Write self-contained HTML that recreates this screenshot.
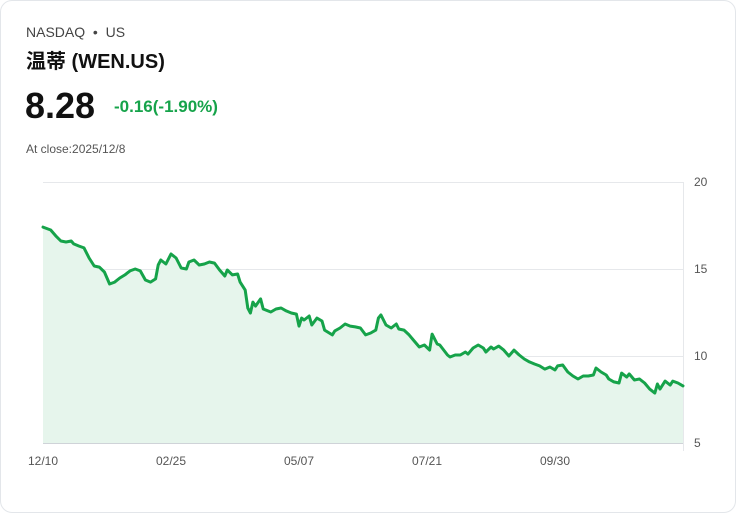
<!DOCTYPE html>
<html><head><meta charset="utf-8"><style>
body{margin:0;background:#fff;font-family:"Liberation Sans","Noto Sans CJK SC",sans-serif;}
.card{position:absolute;left:0;top:0;width:734px;height:511px;border:1px solid #e3e6ea;border-radius:12px;background:#fff;}
.t{position:absolute;white-space:nowrap;}
</style></head><body>
<div class="card">
<div class="t" style="left:25px;top:23px;font-size:14px;color:#444;">NASDAQ &nbsp;•&nbsp; US</div>
<div class="t" style="left:25px;top:44px;font-size:20px;font-weight:bold;color:#111;">温蒂 (WEN.US)</div>
<div class="t" style="left:24px;top:84px;font-size:36px;font-weight:bold;color:#111;">8.28</div>
<div class="t" style="left:113px;top:96px;font-size:17px;font-weight:bold;color:#16a34a;">-0.16(-1.90%)</div>
<div class="t" style="left:25px;top:141px;font-size:12px;color:#555;">At close:2025/12/8</div>
<svg id="chart" width="736" height="513" style="position:absolute;left:-1px;top:-1px;"></svg>
</div>
<script>
const days=[0,3,5,7,9,11,12,14,16,18,20,22,24,26,28,30,32,34,36,38,40,42,44,45,46,48,50,52,54,56,57,59,61,63,65,67,69,71,72,74,76,77,79,80,81,82,83,85,86,89,91,93,95,97,99,100,101,102,104,105,107,109,110,113,114,116,118,120,122,124,126,128,130,131,132,134,136,138,139,141,143,145,147,149,151,152,154,155,158,159,161,163,165,166,168,170,172,173,175,176,178,180,182,184,186,188,190,192,194,196,198,200,201,203,205,207,209,211,213,215,216,218,220,221,223,225,226,228,229,231,233,235,237,239,240,241,243,245,246,248,250];
const prices=[17.41,17.24,16.90,16.61,16.55,16.61,16.44,16.32,16.21,15.63,15.17,15.11,14.83,14.14,14.25,14.48,14.66,14.89,15.00,14.89,14.37,14.25,14.43,15.23,15.52,15.29,15.86,15.63,15.06,15.00,15.40,15.52,15.23,15.29,15.40,15.34,14.94,14.60,14.94,14.66,14.71,14.25,13.79,12.76,12.47,13.10,12.87,13.28,12.70,12.53,12.70,12.76,12.59,12.47,12.41,11.72,12.18,12.07,12.30,11.78,12.18,12.01,11.49,11.21,11.44,11.61,11.84,11.72,11.67,11.61,11.21,11.32,11.49,12.18,12.36,11.78,11.61,11.84,11.55,11.49,11.21,10.86,10.52,10.63,10.34,11.26,10.69,10.63,10.06,9.94,10.06,10.06,10.23,10.11,10.46,10.63,10.46,10.23,10.52,10.40,10.57,10.34,10.00,10.34,10.06,9.83,9.66,9.54,9.43,9.25,9.37,9.20,9.43,9.48,9.08,8.85,8.68,8.85,8.85,8.91,9.31,9.08,8.91,8.68,8.51,8.45,9.02,8.79,8.97,8.62,8.68,8.45,8.10,7.87,8.39,8.10,8.56,8.33,8.56,8.45,8.28];
const yTicks=[5,10,15,20];
const xTickLabels=["12/10","02/25","05/07","07/21","09/30"];
const xTickDays=[0,50,100,150,200];
const svg=document.getElementById('chart');
const NS='http://www.w3.org/2000/svg';
const X0=43,X1=683,Y0=443,Y1=182,DMAX=250;
const sx=d=>X0+(X1-X0)*d/DMAX;
const sy=v=>Y0-(Y0-Y1)*(v-5)/15;
function mk(tag,attrs){const e=document.createElementNS(NS,tag);for(const k in attrs)e.setAttribute(k,attrs[k]);svg.appendChild(e);return e;}
yTicks.forEach(v=>{
 const l=mk('line',{x1:X0,x2:X1,y1:sy(v)+0.5,y2:sy(v)+0.5,stroke:v===5?'#cfd3d8':'#e6e8eb','stroke-width':1});
 
 
 const t=mk('text',{x:694,y:sy(v)+4,'font-size':12,fill:'#555','font-family':'Liberation Sans, sans-serif'});
 t.textContent=v;
 
 
});
const ax=mk('line',{x1:X1+0.5,x2:X1+0.5,y1:Y1,y2:Y0+8,stroke:'#e6e8eb','stroke-width':1});


xTickLabels.forEach((s,i)=>{
 const t=mk('text',{x:sx(xTickDays[i]),y:465,'font-size':12,fill:'#555','text-anchor':'middle','font-family':'Liberation Sans, sans-serif'});
 t.textContent=s;
 
 
});
const n=Math.min(days.length,prices.length);
let d='';
for(let i=0;i<n;i++)d+=(i?'L':'M')+sx(days[i]).toFixed(1)+','+sy(prices[i]).toFixed(1);
const area=mk('path',{d:d+'L'+sx(days[n-1])+','+Y0+'L'+sx(days[0])+','+Y0+'Z',fill:'#e6f5ec'});


const line=mk('path',{d:d,fill:'none',stroke:'#16a34a','stroke-width':3,'stroke-linejoin':'round','stroke-linecap':'round'});


</script>
</body></html>
